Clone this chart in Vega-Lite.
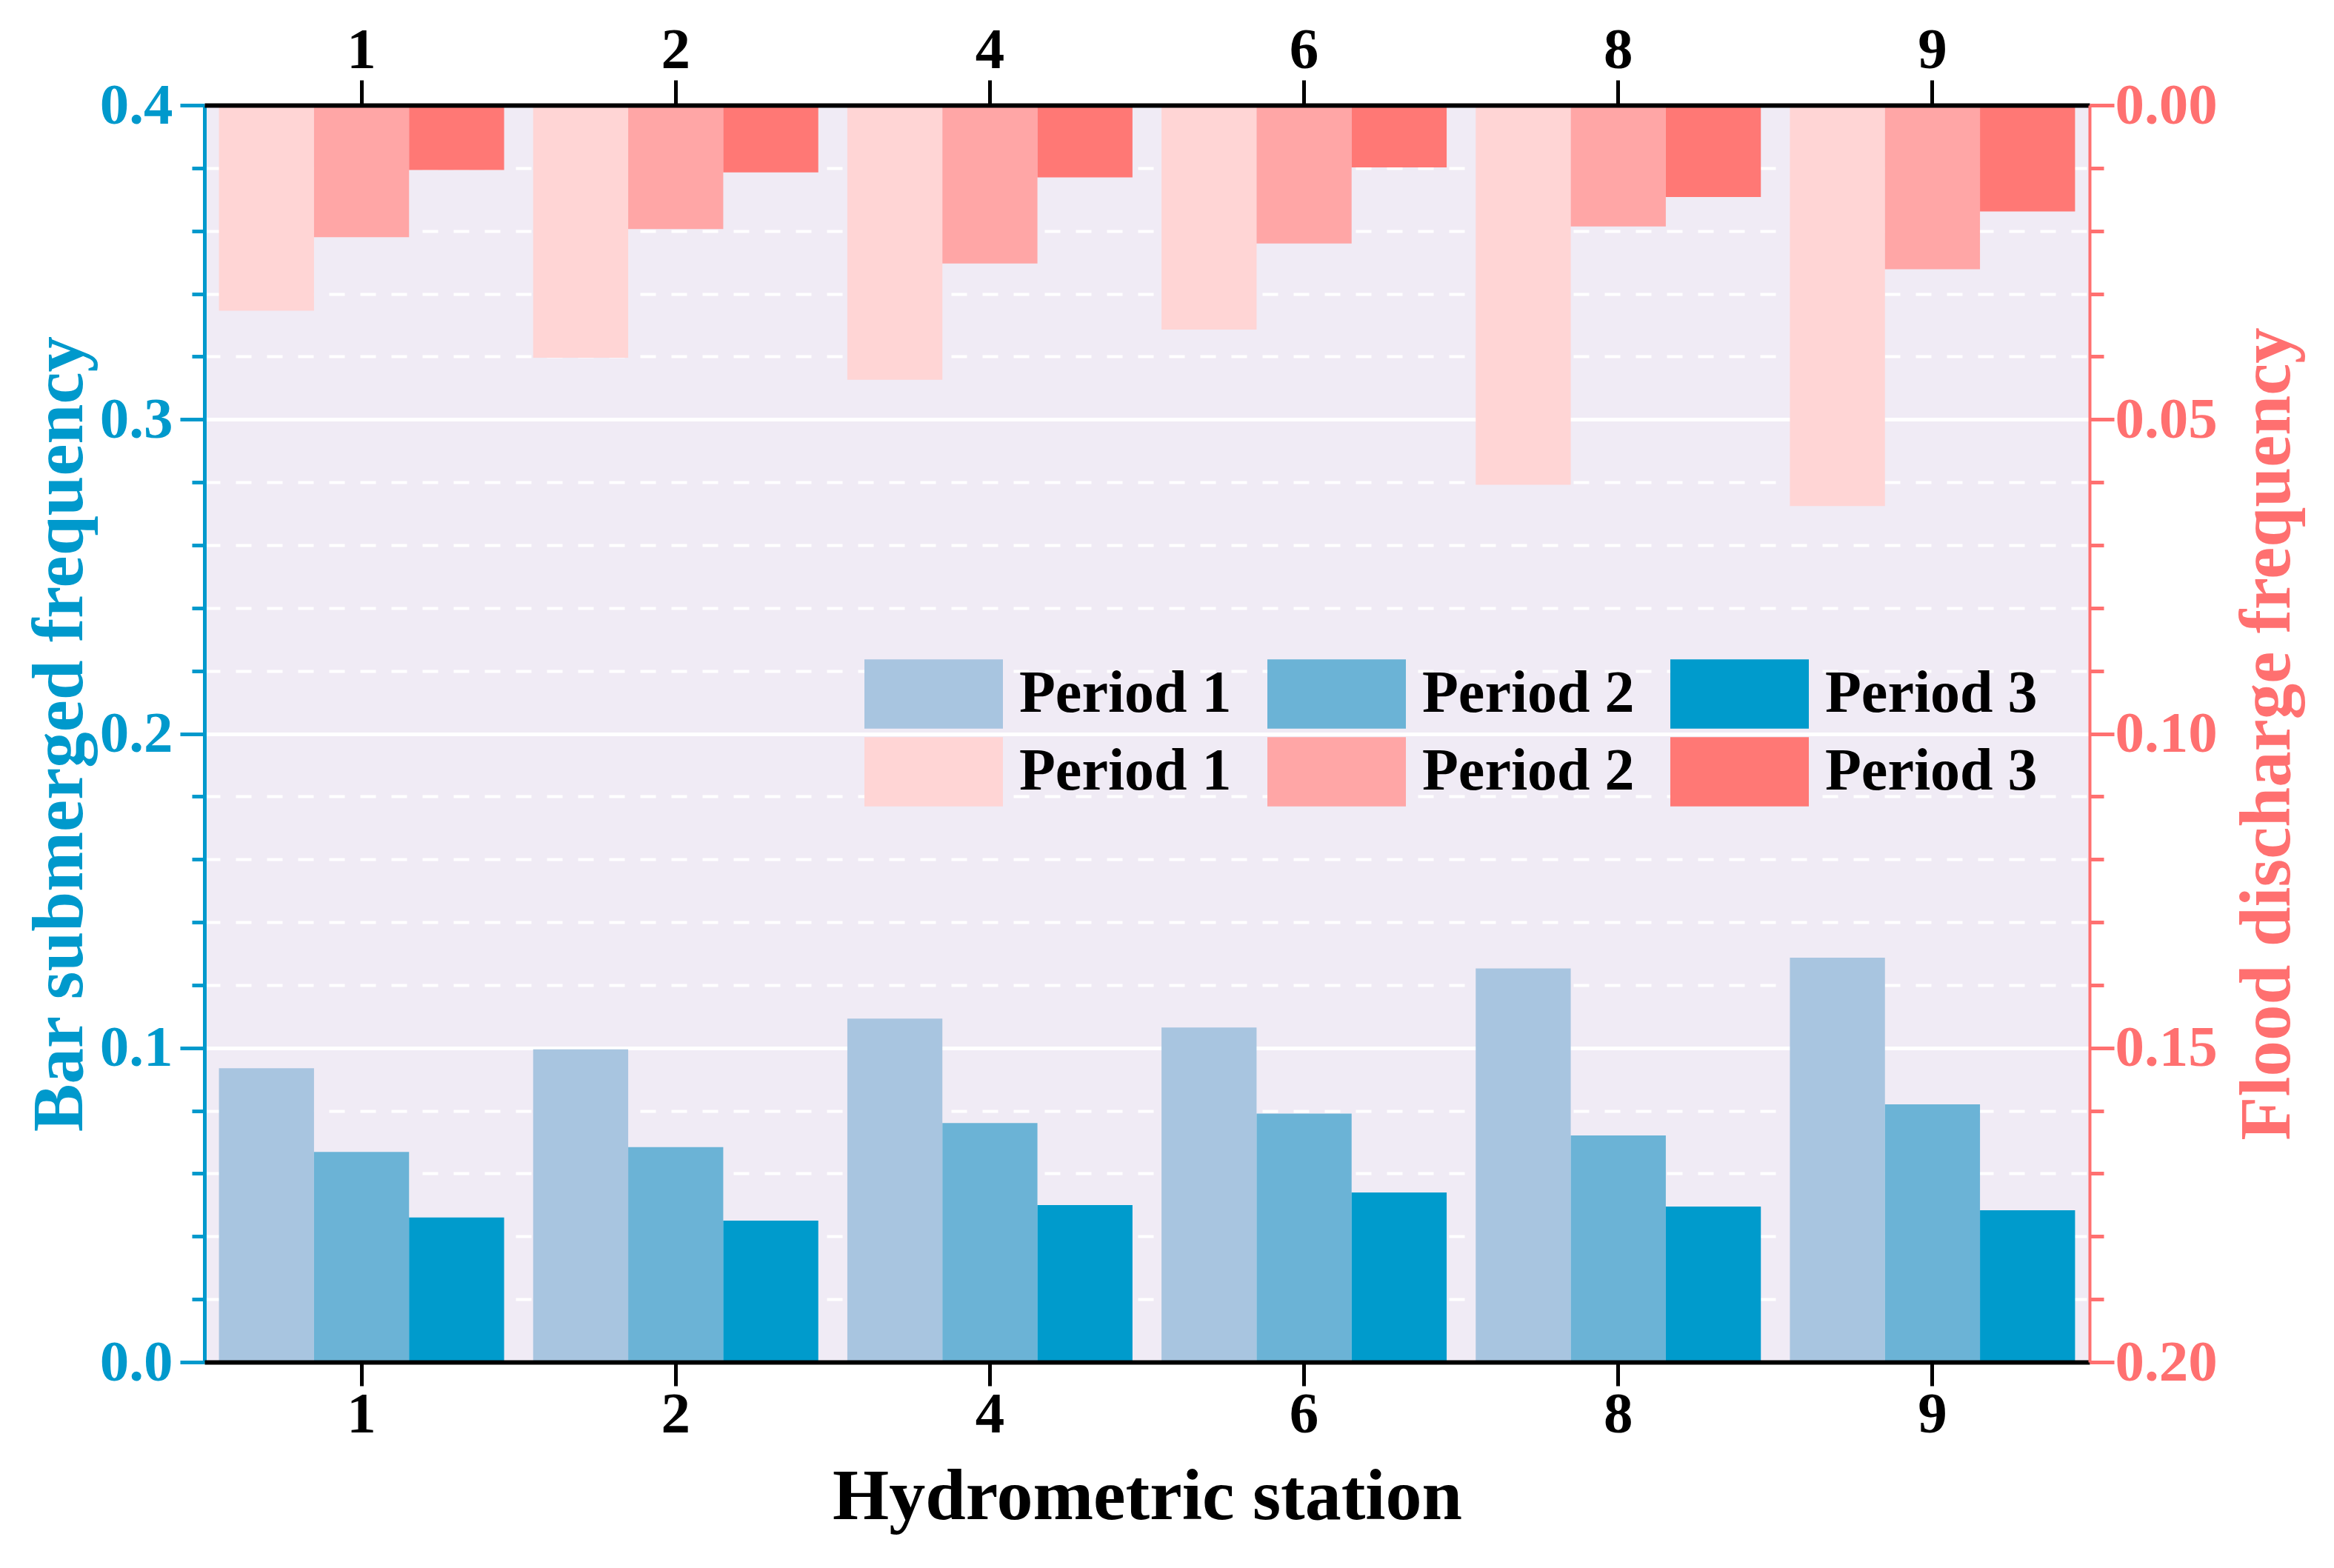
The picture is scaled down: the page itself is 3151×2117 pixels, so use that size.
{
  "$schema": "https://vega.github.io/schema/vega-lite/v6.json",
  "autosize": {"type": "none"},
  "width": 2545,
  "height": 1697,
  "padding": {"left": 276, "top": 142, "right": 330, "bottom": 278},
  "background": "white",
  "config": {
    "view": {"fill": "#F0EBF5", "stroke": null},
    "font": "Liberation Serif"
  },
  "data": {
    "values": [
      {"station": "1", "period": "Period 1", "bar": 0.0935, "flood": 0.0327},
      {"station": "1", "period": "Period 2", "bar": 0.0669, "flood": 0.0210},
      {"station": "1", "period": "Period 3", "bar": 0.0460, "flood": 0.0103},
      {"station": "2", "period": "Period 1", "bar": 0.0995, "flood": 0.0402},
      {"station": "2", "period": "Period 2", "bar": 0.0684, "flood": 0.0197},
      {"station": "2", "period": "Period 3", "bar": 0.0450, "flood": 0.0107},
      {"station": "4", "period": "Period 1", "bar": 0.1093, "flood": 0.0437},
      {"station": "4", "period": "Period 2", "bar": 0.0761, "flood": 0.0252},
      {"station": "4", "period": "Period 3", "bar": 0.0500, "flood": 0.0115},
      {"station": "6", "period": "Period 1", "bar": 0.1065, "flood": 0.0357},
      {"station": "6", "period": "Period 2", "bar": 0.0791, "flood": 0.0220},
      {"station": "6", "period": "Period 3", "bar": 0.0540, "flood": 0.0099},
      {"station": "8", "period": "Period 1", "bar": 0.1253, "flood": 0.0604},
      {"station": "8", "period": "Period 2", "bar": 0.0721, "flood": 0.0193},
      {"station": "8", "period": "Period 3", "bar": 0.0495, "flood": 0.0146},
      {"station": "9", "period": "Period 1", "bar": 0.1287, "flood": 0.0638},
      {"station": "9", "period": "Period 2", "bar": 0.0820, "flood": 0.0261},
      {"station": "9", "period": "Period 3", "bar": 0.0483, "flood": 0.0169}
    ]
  },
  "layer": [
    {
      "mark": {"type": "bar"},
      "encoding": {
        "x": {
          "field": "station", "type": "nominal", "sort": ["1", "2", "4", "6", "8", "9"],
          "scale": {"paddingInner": 0.0924, "paddingOuter": 0.0462},
          "axis": {
            "orient": "bottom", "zindex": 2, "labelAngle": 0,
            "domainColor": "black", "domainWidth": 6,
            "tickColor": "black", "tickWidth": 5, "tickSize": 32,
            "labelColor": "black", "labelFontSize": 79, "labelFont": "Liberation Serif", "labelFontWeight": "bold", "labelPadding": 0,
            "title": "Hydrometric station", "titleColor": "black", "titleFontSize": 98, "titleFont": "Liberation Serif", "titleFontWeight": "bold", "titlePadding": 24,
            "grid": false
          }
        },
        "xOffset": {"field": "period", "type": "nominal", "scale": {"paddingInner": 0, "paddingOuter": 0}},
        "y": {
          "field": "bar", "type": "quantitative",
          "scale": {"domain": [0, 0.4], "nice": false, "zero": true},
          "axis": {
            "orient": "left", "zindex": 0,
            "values": [0, 0.02, 0.04, 0.06, 0.08, 0.1, 0.12, 0.14, 0.16, 0.18, 0.2, 0.22, 0.24, 0.26, 0.28, 0.3, 0.32, 0.34, 0.36, 0.38, 0.4],
            "format": ".1f",
            "labelExpr": "abs(datum.value*10 - round(datum.value*10)) < 0.001 ? datum.label : ''",
            "labelOverlap": false,
            "domainColor": "#0099CC", "domainWidth": 5,
            "tickColor": "#0099CC", "tickWidth": 5,
            "tickSize": {"condition": {"test": "abs(datum.value*10 - round(datum.value*10)) < 0.001", "value": 33}, "value": 17},
            "labelColor": "#0099CC", "labelFontSize": 79, "labelFont": "Liberation Serif", "labelFontWeight": "bold", "labelPadding": 10,
            "grid": true, "gridColor": "white",
            "gridWidth": {"condition": {"test": "abs(datum.value*10 - round(datum.value*10)) < 0.001", "value": 5}, "value": 4},
            "gridDash": {"condition": {"test": "abs(datum.value*10 - round(datum.value*10)) < 0.001", "value": []}, "value": [21, 21]},
            "title": "Bar submerged frequency", "titleColor": "#0099CC", "titleFontSize": 97, "titleFont": "Liberation Serif", "titleFontWeight": "bold", "titlePadding": 4
          }
        },
        "color": {
          "field": "period", "type": "nominal",
          "scale": {"domain": ["Period 1", "Period 2", "Period 3"], "range": ["#A8C5E0", "#6BB3D6", "#009BCC"]},
          "legend": {
            "orient": "none", "legendX": 891, "legendY": 701, "direction": "horizontal", "columns": 3,
            "title": null, "padding": 0, "zindex": 3,
            "symbolType": "M-1,-0.5H1V0.5H-1Z", "symbolSize": 34969, "symbolStrokeWidth": 0, "symbolOpacity": 1,
            "labelFontSize": 80, "labelFont": "Liberation Serif", "labelFontWeight": "bold", "labelColor": "black",
            "labelOffset": 22, "columnPadding": 48, "labelLimit": 600
          }
        }
      }
    },
    {
      "mark": {"type": "bar"},
      "encoding": {
        "x": {
          "field": "station", "type": "nominal", "sort": ["1", "2", "4", "6", "8", "9"],
          "scale": {"paddingInner": 0.0924, "paddingOuter": 0.0462},
          "axis": {
            "orient": "top", "zindex": 2, "labelAngle": 0,
            "domainColor": "black", "domainWidth": 6,
            "tickColor": "black", "tickWidth": 5, "tickSize": 34,
            "labelColor": "black", "labelFontSize": 79, "labelFont": "Liberation Serif", "labelFontWeight": "bold", "labelPadding": 0,
            "title": null, "grid": false
          }
        },
        "xOffset": {"field": "period", "type": "nominal", "scale": {"paddingInner": 0, "paddingOuter": 0}},
        "y": {
          "field": "flood", "type": "quantitative",
          "scale": {"domain": [0, 0.2], "nice": false, "zero": true, "reverse": true},
          "axis": {
            "orient": "right", "zindex": 2,
            "values": [0, 0.01, 0.02, 0.03, 0.04, 0.05, 0.06, 0.07, 0.08, 0.09, 0.1, 0.11, 0.12, 0.13, 0.14, 0.15, 0.16, 0.17, 0.18, 0.19, 0.2],
            "format": ".2f",
            "labelExpr": "abs(datum.value*20 - round(datum.value*20)) < 0.001 ? datum.label : ''",
            "labelOverlap": false,
            "domainColor": "#FF7070", "domainWidth": 4,
            "tickColor": "#FF7070", "tickWidth": 5,
            "tickSize": {"condition": {"test": "abs(datum.value*20 - round(datum.value*20)) < 0.001", "value": 33}, "value": 19},
            "labelColor": "#FF7070", "labelFontSize": 79, "labelFont": "Liberation Serif", "labelFontWeight": "bold", "labelPadding": 1,
            "grid": false,
            "title": "Flood discharge frequency", "titleColor": "#FF7070", "titleFontSize": 97, "titleFont": "Liberation Serif", "titleFontWeight": "bold",
            "titleAngle": 270, "titleBaseline": "top", "titlePadding": 20
          }
        },
        "color": {
          "field": "period", "type": "nominal",
          "scale": {"domain": ["Period 1", "Period 2", "Period 3"], "range": ["#FFD5D5", "#FFA6A6", "#FF7875"]},
          "legend": {
            "orient": "none", "legendX": 891, "legendY": 806, "direction": "horizontal", "columns": 3,
            "title": null, "padding": 0, "zindex": 3,
            "symbolType": "M-1,-0.5H1V0.5H-1Z", "symbolSize": 34969, "symbolStrokeWidth": 0, "symbolOpacity": 1,
            "labelFontSize": 80, "labelFont": "Liberation Serif", "labelFontWeight": "bold", "labelColor": "black",
            "labelOffset": 22, "columnPadding": 48, "labelLimit": 600
          }
        }
      }
    }
  ],
  "resolve": {
    "scale": {"x": "independent", "y": "independent", "color": "independent", "xOffset": "independent"},
    "axis": {"x": "independent", "y": "independent"},
    "legend": {"color": "independent"}
  }
}
